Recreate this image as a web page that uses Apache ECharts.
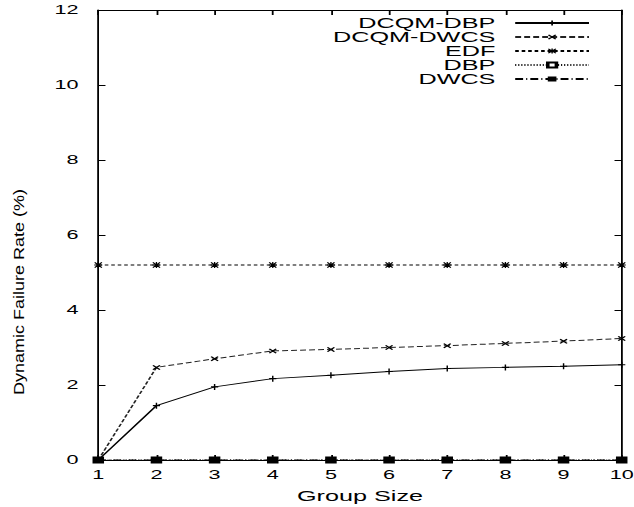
<!DOCTYPE html>
<html>
<head>
<meta charset="utf-8">
<script src="https://cdn.jsdelivr.net/npm/echarts@6/dist/echarts.min.js"></script>
<style>
html,body{margin:0;padding:0;background:#fff;overflow:hidden;}
#c{position:absolute;left:0;top:0;width:352.22px;height:507px;transform:scaleX(1.8);transform-origin:0 0;}
</style>
</head>
<body>
<div id="c"></div>
<script>
// ---- data ----
const groupSizes = [1, 2, 3, 4, 5, 6, 7, 8, 9, 10];
const dcqmDbp  = [0, 1.45, 1.95, 2.17, 2.26, 2.36, 2.44, 2.47, 2.50, 2.54];
const dcqmDwcs = [0, 2.47, 2.70, 2.91, 2.95, 3.00, 3.05, 3.11, 3.17, 3.24];
const edf      = [5.2, 5.2, 5.2, 5.2, 5.2, 5.2, 5.2, 5.2, 5.2, 5.2];
const dbp      = [0, 0, 0, 0, 0, 0, 0, 0, 0, 0];
const dwcs     = [0, 0, 0, 0, 0, 0, 0, 0, 0, 0];
const seriesNames = ['DCQM-DBP', 'DCQM-DWCS', 'EDF', 'DBP', 'DWCS'];
const yTicks = [0, 2, 4, 6, 8, 10, 12];
const xTitle = 'Group Size';
const yTitle = 'Dynamic Failure Rate (%)';

const S = 1.8; // horizontal stretch of the page
const W = 634 / S;
const FONT = "'Liberation Sans', Helvetica, Arial, sans-serif";

const PLUS = 'path://M0,4H10V6H0Z M4,0H6V10H4Z';
const CROSS = 'path://M0,1.5L1.5,0L10,8.5L8.5,10Z M8.5,0L10,1.5L1.5,10L0,8.5Z';
const STAR = 'path://M0,4.2H10V5.8H0Z M4.2,0H5.8V10H4.2Z M0,1.2L1.2,0L10,8.8L8.8,10Z M8.8,0L10,1.2L1.2,10L0,8.8Z';

function pairs(arr) { return groupSizes.map((g, i) => [g, arr[i]]); }

const chart = echarts.init(document.getElementById('c'), null, {renderer: 'svg', width: W, height: 507});

const axisCommon = {
  type: 'value',
  axisLine: {show: true, onZero: false, lineStyle: {color: '#000', width: 1}},
  splitLine: {show: false}
};

chart.setOption({
  animation: false,
  backgroundColor: '#fff',
  grid: {left: 54.6, right: W - 345.4, top: 10, bottom: 47, containLabel: false, outerBoundsMode: 'none'},
  xAxis: [
    Object.assign({}, axisCommon, {
      min: 1, max: 10, interval: 1, position: 'bottom',
      axisTick: {show: true, inside: true, length: 5, lineStyle: {color: '#000'}},
      axisLabel: {color: '#000', fontSize: 12, fontFamily: FONT, margin: 9},
      name: xTitle, nameLocation: 'middle', nameGap: 29,
      nameTextStyle: {color: '#000', fontSize: 14, fontFamily: FONT}
    }),
    Object.assign({}, axisCommon, {
      min: 1, max: 10, interval: 1, position: 'top',
      axisTick: {show: true, inside: true, length: 5, lineStyle: {color: '#000'}},
      axisLabel: {show: false}
    })
  ],
  yAxis: [
    Object.assign({}, axisCommon, {
      min: 0, max: 12, interval: 2, position: 'left',
      axisTick: {show: true, inside: true, length: 4, lineStyle: {color: '#000'}},
      axisLabel: {color: '#000', fontSize: 12, fontFamily: FONT, margin: 11,
        formatter: v => yTicks.indexOf(v) >= 0 ? String(v) : ''}
    }),
    Object.assign({}, axisCommon, {
      min: 0, max: 12, interval: 2, position: 'right',
      axisTick: {show: true, inside: true, length: 4, lineStyle: {color: '#000'}},
      axisLabel: {show: false}
    })
  ],
  legend: {
    orient: 'vertical', align: 'right',
    right: 19, top: 11,
    itemWidth: 41, itemHeight: 6, itemGap: 0,
    textStyle: {color: '#000', fontSize: 14, fontFamily: FONT, lineHeight: 13.7, padding: [0, 6, 0, 0]},
    data: seriesNames
  },
  graphic: [{
    type: 'text',
    x: 18.8 / S, y: 292,
    rotation: Math.PI / 2,
    scaleX: 1, scaleY: 0.47,
    style: {text: yTitle, fontSize: 18, fontFamily: FONT, fill: '#000',
      align: 'center', verticalAlign: 'middle', textAlign: 'center', textVerticalAlign: 'middle'}
  }],
  series: [
    {name: seriesNames[0], type: 'line', data: pairs(dcqmDbp), symbol: PLUS, symbolSize: [4, 6],
      lineStyle: {color: '#000', width: 1, type: 'solid'}, itemStyle: {color: '#000'}, z: 3},
    {name: seriesNames[1], type: 'line', data: pairs(dcqmDwcs), symbol: CROSS, symbolSize: [4.5, 5],
      lineStyle: {color: '#222', width: 1, type: [3.3, 1.7]}, itemStyle: {color: '#000'}, z: 3},
    {name: seriesNames[2], type: 'line', data: pairs(edf), symbol: STAR, symbolSize: [4.5, 6],
      lineStyle: {color: '#000', width: 1, type: [2, 1.6]}, itemStyle: {color: '#000'}, z: 3},
    {name: seriesNames[3], type: 'line', data: pairs(dbp), symbol: 'emptyRect', symbolSize: [4.5, 5],
      lineStyle: {color: '#000', width: 1, type: [0.6, 1.1]}, itemStyle: {color: '#000', borderColor: '#000', borderWidth: 1}, z: 3},
    {name: seriesNames[4], type: 'line', data: pairs(dwcs), symbol: 'rect', symbolSize: [5, 5.5],
      lineStyle: {color: '#000', width: 1, type: [4.4, 1.7, 0.6, 1.7]}, itemStyle: {color: '#000'}, z: 4}
  ]
});
</script>
</body>
</html>
